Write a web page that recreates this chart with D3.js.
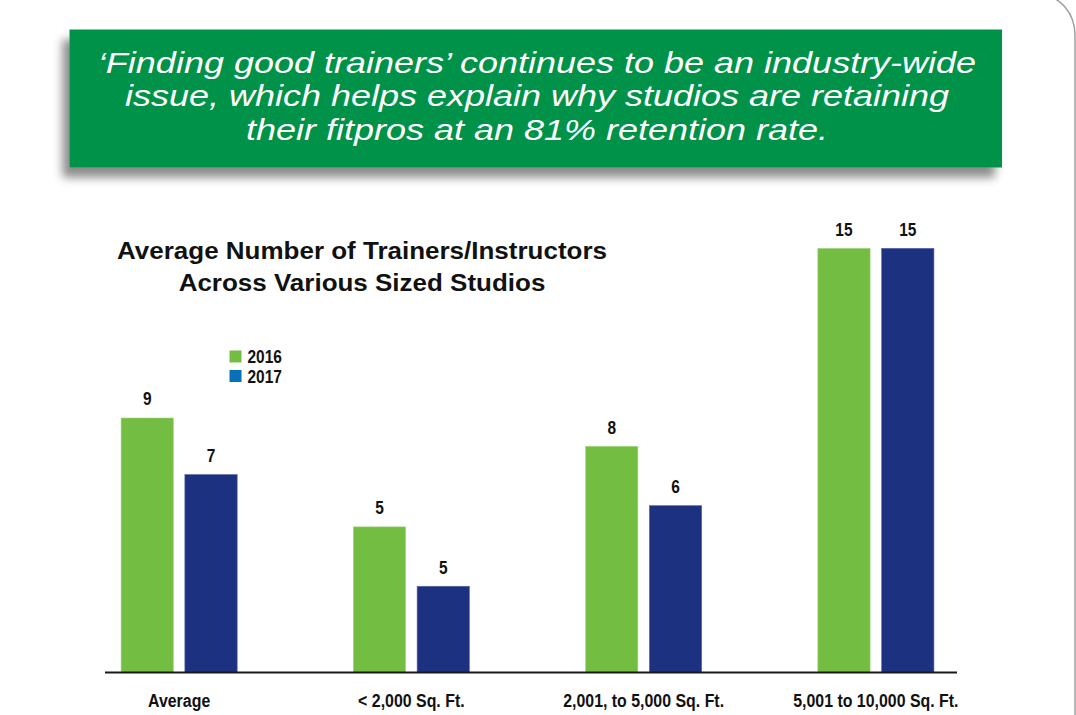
<!DOCTYPE html>
<html>
<head>
<meta charset="utf-8">
<script src="https://cdn.jsdelivr.net/npm/d3@7"></script>
<style>
	body { margin: 0; background: #fff; }
	svg { display: block; }
	.narrow { font-family: "Liberation Sans", Arial, sans-serif; font-weight: bold; }
</style>
</head>
<body>
<svg width="1076" height="715"></svg>
<script>
// data
const categories = ["Average", "< 2,000 Sq. Ft.", "2,001, to 5,000 Sq. Ft.", "5,001 to 10,000 Sq. Ft."];
const years = ["2016", "2017"];
// bar heights as drawn in the picture
const values2016 = [9, 5.15, 8, 15];
const values2017 = [7, 3.05, 5.9, 15];
// numbers printed above the bars
const labels2016 = ["9", "5", "8", "15"];
const labels2017 = ["7", "5", "6", "15"];
const bannerLines = [
	"\u2018Finding good trainers\u2019 continues to be an industry-wide",
	"issue, which helps explain why studios are retaining",
	"their fitpros at an 81% retention rate."
];
const titleLines = ["Average Number of Trainers/Instructors", "Across Various Sized Studios"];

const barColors = { "2016": "#74bd43", "2017": "#1c3280" };
const legendColors = { "2016": "#74bd43", "2017": "#0a6fb9" };

// squeeze factor that makes the bold face look condensed
const narrow = 0.86;

const svg = d3.select("svg");
const width = +svg.attr("width");
const height = +svg.attr("height");

// page frame on the right
svg.append("path")
	.attr("d", "M 990 -5 H 1040 A 35 40 0 0 1 1075 35 V 720")
	.attr("fill", "none")
	.attr("stroke", "#a0a0a0")
	.attr("stroke-width", 1.5);

// banner
const defs = svg.append("defs");
defs.append("filter")
		.attr("id", "shadow")
		.attr("x", "-10%").attr("y", "-20%")
		.attr("width", "120%").attr("height", "160%")
	.append("feDropShadow")
		.attr("dx", -7)
		.attr("dy", 10)
		.attr("stdDeviation", 5)
		.attr("flood-color", "#000")
		.attr("flood-opacity", 0.45);

svg.append("rect")
	.attr("x", 69.5)
	.attr("y", 29.5)
	.attr("width", 932.5)
	.attr("height", 138)
	.attr("fill", "#00924a")
	.attr("filter", "url(#shadow)");

svg.append("g")
		.attr("transform", "translate(537, 0) scale(1.2, 1)")
		.attr("fill", "#fff")
		.attr("font-family", "'Liberation Sans', Arial, sans-serif")
		.attr("font-style", "italic")
		.attr("font-size", 30)
		.attr("text-anchor", "middle")
	.selectAll("text")
	.data(bannerLines)
	.join("text")
		.attr("x", 0)
		.attr("y", (d, i) => 73 + i * 33.5)
		.text(d => d);

// chart title
svg.append("g")
		.attr("transform", "translate(362, 0) scale(1.13, 1)")
		.attr("fill", "#111")
		.attr("font-family", "'Liberation Sans', Arial, sans-serif")
		.attr("font-weight", "bold")
		.attr("font-size", 23)
		.attr("text-anchor", "middle")
	.selectAll("text")
	.data(titleLines)
	.join("text")
		.attr("x", 0)
		.attr("y", (d, i) => 259.5 + i * 31.5)
		.text(d => d);

// scales
const x0 = d3.scaleBand()
	.domain(categories)
	.range([63, 992])
	.paddingInner(0.5)
	.paddingOuter(0.25);

const x1 = d3.scaleBand()
	.domain(years)
	.range([0, x0.bandwidth()])
	.paddingInner(0.18);

const y = d3.scaleLinear()
	.domain([0, d3.max([...values2016, ...values2017])])
	.range([672.5, 248.3]);

const rows = categories.map((c, i) => ({
	category: c,
	bars: [
		{ year: "2016", value: values2016[i], label: labels2016[i] },
		{ year: "2017", value: values2017[i], label: labels2017[i] }
	]
}));

const groups = svg.append("g")
	.selectAll("g")
	.data(rows)
	.join("g")
		.attr("transform", d => `translate(${x0(d.category)}, 0)`);

groups.selectAll("rect")
	.data(d => d.bars)
	.join("rect")
		.attr("x", d => x1(d.year))
		.attr("y", d => y(d.value))
		.attr("width", x1.bandwidth())
		.attr("height", d => y(0) - y(d.value))
		.attr("fill", d => barColors[d.year])
		.attr("stroke", d => d.year === "2016" ? "#a8d88a" : "#5a6aa8")
		.attr("stroke-width", 0.6);

groups.selectAll("text")
	.data(d => d.bars)
	.join("text")
		.attr("class", "narrow")
		.attr("transform", d => `translate(${x1(d.year) + x1.bandwidth() / 2}, ${y(d.value) - 12.5}) scale(${narrow}, 1)`)
		.attr("text-anchor", "middle")
		.attr("font-size", 18)
		.attr("fill", "#111")
		.text(d => d.label);

// baseline and category labels
const xAxis = svg.append("g")
	.attr("transform", `translate(0, ${y(0)})`)
	.call(d3.axisBottom(x0).tickSize(0));

xAxis.select(".domain")
	.attr("d", "M105,0H957")
	.attr("stroke", "#1a1a1a")
	.attr("stroke-width", 2.2);

xAxis.selectAll(".tick text")
	.attr("class", "narrow")
	.attr("font-size", 18.5)
	.attr("fill", "#111")
	.attr("y", 0)
	.attr("dy", 0)
	.attr("transform", `translate(0, 34) scale(${narrow}, 1)`);

// legend
const legend = svg.append("g")
	.attr("transform", "translate(229.5, 350.5)");

const legendItems = legend.selectAll("g")
	.data(years)
	.join("g")
		.attr("transform", (d, i) => `translate(0, ${i * 19.5})`);

legendItems.append("rect")
	.attr("width", 12)
	.attr("height", 12)
	.attr("fill", d => legendColors[d]);

legendItems.append("text")
	.attr("class", "narrow")
	.attr("transform", `translate(18, 12.5) scale(${narrow}, 1)`)
	.attr("font-size", 18)
	.attr("fill", "#111")
	.text(d => d);
</script>
</body>
</html>
